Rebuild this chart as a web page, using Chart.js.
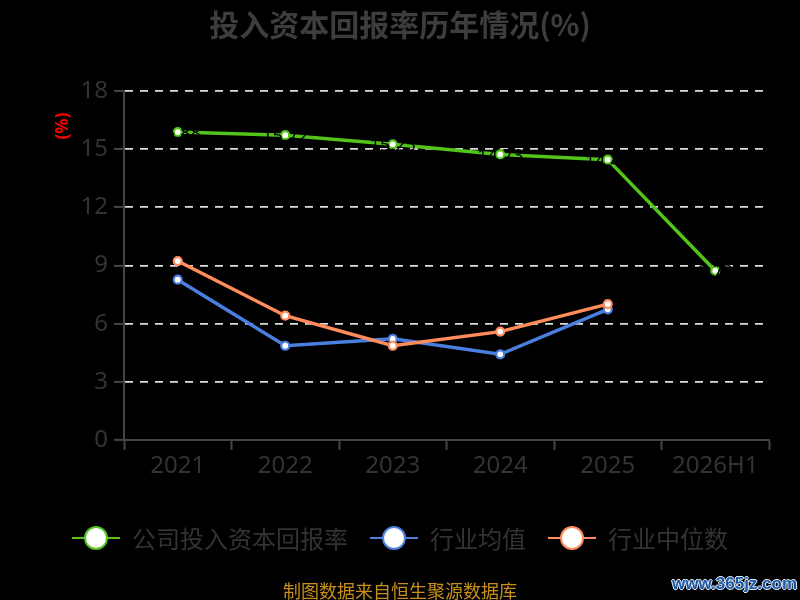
<!DOCTYPE html>
<html>
<head>
<meta charset="utf-8">
<script src="https://cdn.jsdelivr.net/npm/chart.js@4/dist/chart.umd.min.js"></script>
<style>
  html, body { margin: 0; padding: 0; background: #000; }
  #wrap { position: relative; width: 800px; height: 600px; overflow: hidden; font-family: "Noto Sans CJK SC", "Noto Sans", sans-serif; }
  #chartTitle { position: absolute; left: 0; top: 1px; width: 800px; text-align: center; font-size: 30px; font-weight: bold; color: #3d3d3d; }
  #legend { position: absolute; left: 0; top: 520px; width: 800px; display: flex; justify-content: center; gap: 22px; }
  .item { display: flex; align-items: center; font-size: 24px; color: #333; }
  .mark { position: relative; width: 48px; height: 34px; margin-right: 12px; }
  .mark .ln { position: absolute; left: 0; right: 0; top: 16px; height: 2px; }
  .mark .dot { position: absolute; left: 12px; top: 5px; width: 20px; height: 20px; border-radius: 50%; background: #fff; border: 2px solid; }
  #source { position: absolute; left: 0; top: 577px; width: 800px; text-align: center; font-size: 18px; color: #c8901a; }
  #mark365 { position: absolute; left: 672px; top: 574px; font-size: 17px; font-weight: bold; color: #1d5aa6; font-family: "Liberation Sans", sans-serif; text-shadow: -1px 0 #dfe8f5, 1px 0 #dfe8f5, 0 -1px #dfe8f5, 0 1px #dfe8f5; }
</style>
</head>
<body>
<div id="wrap">
  <canvas id="roicChart" width="800" height="600"></canvas>
  <div id="chartTitle">投入资本回报率历年情况(%)</div>
  <div id="legend"></div>
  <div id="source">制图数据来自恒生聚源数据库</div>
  <div id="mark365">www.365jz.com</div>
</div>
<script>
// categories and values
const years = ["2021", "2022", "2023", "2024", "2025", "2026H1"];
const companyRoic = [15.88, 15.72, 15.25, 14.73, 14.46, 8.73];
const industryAvg = [8.27, 4.86, 5.22, 4.42, 6.74, null];
const industryMedian = [9.23, 6.41, 4.86, 5.59, 7.01, null];
const yTicks = [0, 3, 6, 9, 12, 15, 18];

const seriesNames = ["公司投入资本回报率", "行业均值", "行业中位数"];
const seriesColors = ["#52c41a", "#4a7fe0", "#ff8c5a"];
// draw order: lower number sits on top
const seriesOrder = [0, 2, 1];

// html legend
const legendBox = document.getElementById("legend");
legendBox.innerHTML = seriesNames
  .map(
    (name, i) => `
    <div class="item">
      <div class="mark">
        <div class="ln" style="background:${seriesColors[i]}"></div>
        <div class="dot" style="border-color:${seriesColors[i]}"></div>
      </div>
      <span>${name}</span>
    </div>`
  )
  .join("");

// red "(%)" unit label and black value labels on the company line
const extraText = {
  id: "extraText",
  afterDatasetsDraw(chart) {
    const ctx = chart.ctx;
    const meta = chart.getDatasetMeta(0);
    ctx.save();
    ctx.fillStyle = "#000";
    ctx.font = "18px 'Noto Sans'";
    ctx.textAlign = "center";
    ctx.textBaseline = "middle";
    meta.data.forEach((pt, i) => {
      ctx.fillText(companyRoic[i].toFixed(2), pt.x, pt.y + 2);
    });
    ctx.restore();

    ctx.save();
    ctx.translate(63, 126);
    ctx.rotate(-Math.PI / 2);
    ctx.fillStyle = "#ff0000";
    ctx.font = "bold 17px 'Noto Sans'";
    ctx.textAlign = "center";
    ctx.textBaseline = "middle";
    ctx.fillText("(%)", 0, 0);
    ctx.restore();
  },
};

const makeSet = (i, data) => ({
  label: seriesNames[i],
  data: data,
  order: seriesOrder[i],
  borderColor: seriesColors[i],
  backgroundColor: "#fff",
  borderWidth: 3.5,
  pointRadius: 4,
  pointBorderWidth: 2.2,
  pointBackgroundColor: "#fff",
  pointBorderColor: seriesColors[i],
  tension: 0,
  spanGaps: false,
});

new Chart(document.getElementById("roicChart").getContext("2d"), {
  type: "line",
  data: {
    labels: years,
    datasets: [
      makeSet(0, companyRoic),
      makeSet(1, industryAvg),
      makeSet(2, industryMedian),
    ],
  },
  options: {
    responsive: false,
    animation: false,
    layout: { padding: { top: 91, left: 0, right: 31, bottom: 110 } },
    plugins: {
      legend: { display: false },
      title: { display: false },
      tooltip: { enabled: false },
    },
    scales: {
      x: {
        offset: true,
        afterFit: (scale) => {
          scale.height = 50;
        },
        grid: {
          offset: true,
          drawOnChartArea: false,
          drawTicks: true,
          tickLength: 10,
          tickColor: "#444",
          tickWidth: 2,
        },
        border: { color: "#444", width: 2 },
        ticks: {
          color: "#333",
          font: { size: 24, family: "'Noto Sans'" },
          padding: 2,
          maxRotation: 0,
        },
      },
      y: {
        min: 0,
        max: 18,
        afterFit: (scale) => {
          scale.width = 124;
        },
        afterBuildTicks: (scale) => {
          scale.ticks = yTicks.map((v) => ({ value: v }));
        },
        grid: {
          color: (c) => (c.tick && c.tick.value === 0 ? "rgba(0,0,0,0)" : "#dddddd"),
          lineWidth: 1.8,
          tickLength: 10,
          tickColor: "#444",
          tickWidth: 2,
        },
        border: { color: "#444", width: 2, dash: [8, 7] },
        ticks: {
          color: "#333",
          font: { size: 24, family: "'Noto Sans'" },
          padding: 6,
        },
      },
    },
  },
  plugins: [extraText],
});
</script>
</body>
</html>
